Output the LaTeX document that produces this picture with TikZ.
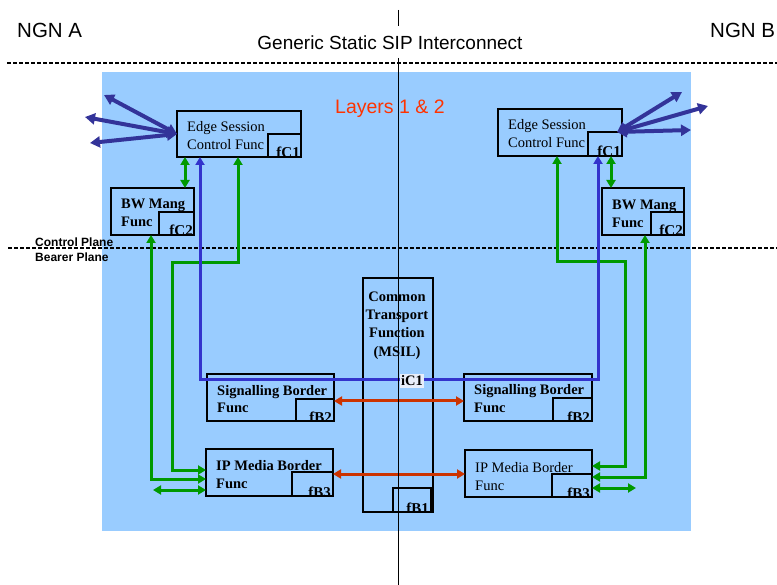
\documentclass[tikz,border=0pt]{standalone}
\usepackage{fontspec}
\setmainfont{Liberation Serif}
\newfontfamily\arialf{Liberation Sans}
\usetikzlibrary{arrows.meta}
\definecolor{bgblue}{RGB}{153,204,255}
\definecolor{grn}{RGB}{0,153,0}
\definecolor{blu}{RGB}{51,51,204}
\definecolor{fanblu}{RGB}{51,51,153}
\definecolor{rdo}{RGB}{204,51,0}
\definecolor{lay}{RGB}{255,51,0}
\definecolor{icbg}{RGB}{232,238,250}
\begin{document}
\begin{tikzpicture}[x=1pt,y=-1pt,
  box/.style={draw=black, line width=2.6pt, rectangle, anchor=north west, inner sep=0pt, outer sep=0pt},
  subbox/.style={draw=black, line width=1.5pt, rectangle, anchor=north west, inner sep=0pt, outer sep=0pt},
  btxt/.style={anchor=base west, inner sep=0pt, font=\fontsize{14.5}{17}\selectfont},
  bbtxt/.style={anchor=base west, inner sep=0pt, font=\fontsize{14.5}{17}\selectfont\bfseries},
  ctxt/.style={anchor=base, inner sep=0pt, font=\fontsize{14.5}{17}\selectfont\bfseries},
  sublbl/.style={anchor=base east, inner sep=0pt, font=\fontsize{15}{17}\selectfont\bfseries},
  gr/.style={draw=grn, line width=3pt, {Triangle[length=8pt,width=9pt]}-{Triangle[length=8pt,width=9pt]}},
  bl/.style={draw=blu, line width=3pt, {Triangle[length=8pt,width=9pt]}-{Triangle[length=8pt,width=9pt]}},
  rd/.style={draw=rdo, line width=3pt, {Triangle[length=8pt,width=9pt]}-{Triangle[length=8pt,width=9pt]}},
  fan/.style={draw=fanblu, line width=4pt, {Triangle[length=10pt,width=11pt]}-{Triangle[length=10pt,width=11pt]}},
  dashline/.style={draw=black, line width=1.3pt, dash pattern=on 4pt off 2pt},
  vline/.style={draw=black, line width=1pt}
]
\useasboundingbox (0,0) rectangle (777,585);
% background
\fill[bgblue] (102,72) rectangle (691,531);
% dashed lines
\coordinate (d1a) at (7,63); \coordinate (d1b) at (777,63);
\coordinate (d2a) at (8,248); \coordinate (d2b) at (777,248);
\draw[dashline] (d1a) -- (d1b);
\draw[dashline] (d2a) -- (d2b);
% top texts
\node[anchor=base west, inner sep=0pt, font=\arialf\fontsize{20.5}{24}\selectfont] (ngna) at (17,38) {NGN A};
\node[anchor=base west, inner sep=0pt, font=\arialf\fontsize{20.5}{24}\selectfont] (ngnb) at (710,38) {NGN B};
\node[anchor=base, inner sep=0pt, font=\arialf\fontsize{19}{22}\selectfont] (gsip) at (390,50) {Generic Static SIP Interconnect};
\node[anchor=base west, inner sep=0pt, font=\arialf\fontsize{19.5}{22}\selectfont, text=lay] (layers) at (335,114) {Layers 1 \& 2};
\node[anchor=base west, inner sep=0pt, font=\arialf\bfseries\fontsize{12}{14}\selectfont] (cplane) at (35,247) {Control Plane};
\node[anchor=base west, inner sep=0pt, font=\arialf\bfseries\fontsize{12}{14}\selectfont] (bplane) at (35,262) {Bearer Plane};
% boxes
\node[box, minimum width=124pt, minimum height=46pt] (esl) at (177,111) {};
\node[subbox, minimum width=33pt, minimum height=23pt] (esls) at (268,134) {};
\node[box, minimum width=83pt, minimum height=47pt] (bwl) at (111,188) {};
\node[subbox, minimum width=35pt, minimum height=23pt] (bwls) at (159,212) {};
\node[box, minimum width=124pt, minimum height=47pt] (esr) at (498,109) {};
\node[subbox, minimum width=34pt, minimum height=24pt] (esrs) at (588,132) {};
\node[box, minimum width=82pt, minimum height=47pt] (bwr) at (602,188) {};
\node[subbox, minimum width=33pt, minimum height=23pt] (bwrs) at (651,212) {};
\node[subbox, line width=2pt, minimum width=70pt, minimum height=234pt] (ctf) at (363,278) {};
\node[subbox, minimum width=38pt, minimum height=24pt] (ctfs) at (393,488) {};
\node[box, minimum width=127pt, minimum height=47pt] (sbl) at (207,374) {};
\node[subbox, minimum width=38pt, minimum height=22pt] (sbls) at (296,399) {};
\node[box, minimum width=128pt, minimum height=47pt] (sbr) at (464,374) {};
\node[subbox, minimum width=39pt, minimum height=23pt] (sbrs) at (553,398) {};
\node[box, minimum width=127pt, minimum height=47pt] (ipl) at (206,449) {};
\node[subbox, minimum width=41pt, minimum height=24pt] (ipls) at (292,472) {};
\node[box, minimum width=127pt, minimum height=47pt] (ipr) at (465,450) {};
\node[subbox, minimum width=40pt, minimum height=23pt] (iprs) at (552,474) {};
% box texts
\node[btxt] (eslt1) at (187,132) {Edge Session};
\node[btxt] (eslt2) at (187,150) {Control Func};
\node[btxt] (esrt1) at (508,130) {Edge Session};
\node[btxt] (esrt2) at (508,148) {Control Func};
\node[bbtxt] (bwlt1) at (121,209) {BW Mang};
\node[bbtxt] (bwlt2) at (121,227) {Func};
\node[bbtxt] (bwrt1) at (612,210) {BW Mang};
\node[bbtxt] (bwrt2) at (612,228) {Func};
\node[bbtxt] (sblt1) at (217,396) {Signalling Border};
\node[bbtxt] (sblt2) at (217,413) {Func};
\node[bbtxt] (sbrt1) at (474,395) {Signalling Border};
\node[bbtxt] (sbrt2) at (474,413) {Func};
\node[bbtxt] (iplt1) at (216,470) {IP Media Border};
\node[bbtxt] (iplt2) at (216,488) {Func};
\node[btxt] (iprt1) at (475,472) {IP Media Border};
\node[btxt] (iprt2) at (475,490) {Func};
\node[ctxt] (ctft1) at (397,302) {Common};
\node[ctxt] (ctft2) at (397,320) {Transport};
\node[ctxt] (ctft3) at (397,338) {Function};
\node[ctxt] (ctft4) at (397,357) {(MSIL)};
% sub labels
\begin{scope}\clip (esls.north west) rectangle (esls.south east);
\node[sublbl] (fc1l) at (300,158) {fC1};\end{scope}
\begin{scope}\clip (bwls.north west) rectangle (bwls.south east);
\node[sublbl] (fc2l) at (193,236) {fC2};\end{scope}
\begin{scope}\clip (esrs.north west) rectangle (esrs.south east);
\node[sublbl] (fc1r) at (621,157) {fC1};\end{scope}
\begin{scope}\clip (bwrs.north west) rectangle (bwrs.south east);
\node[sublbl] (fc2r) at (683,236) {fC2};\end{scope}
\begin{scope}\clip (ctfs.north west) rectangle (ctfs.south east);
\node[sublbl] (fb1) at (429,513) {fB1};\end{scope}
\begin{scope}\clip (sbls.north west) rectangle (sbls.south east);
\node[sublbl] (fb2l) at (332,422) {fB2};\end{scope}
\begin{scope}\clip (sbrs.north west) rectangle (sbrs.south east);
\node[sublbl] (fb2r) at (590,422) {fB2};\end{scope}
\begin{scope}\clip (ipls.north west) rectangle (ipls.south east);
\node[sublbl] (fb3l) at (331,497) {fB3};\end{scope}
\begin{scope}\clip (iprs.north west) rectangle (iprs.south east);
\node[sublbl] (fb3r) at (590,498) {fB3};\end{scope}
% connector coordinates
\coordinate (g1) at (185,170);
\coordinate (g2) at (151,479);
\coordinate (g3a) at (238,263); \coordinate (g3b) at (172,263); \coordinate (g3c) at (172,470);
\coordinate (g4) at (153,490);
\coordinate (g5) at (611,170);
\coordinate (g6a) at (557,262); \coordinate (g6b) at (625,262); \coordinate (g6c) at (625,466);
\coordinate (g7) at (645,477);
\coordinate (g8) at (636,488);
\coordinate (bL) at (200,380); \coordinate (bR) at (598,380);
\coordinate (r1) at (400,401); \coordinate (r2) at (400,474);
\coordinate (fl1) at (104,95); \coordinate (fl2) at (85,117); \coordinate (fl3) at (90,143);
\coordinate (fanR) at (617,132);
\coordinate (fr1) at (682,92); \coordinate (fr2) at (708,106); \coordinate (fr3) at (691,130);
% green connectors
\draw[gr] (esl.south -| g1) -- (bwl.north -| g1);
\draw[gr] (bwl.south -| g2) -- (g2) -- (ipl.west |- g2);
\draw[gr] (esl.south -| g3a) -- (g3a) -- (g3b) -- (g3c) -- (ipl.west |- g3c);
\draw[gr] (g4) -- (ipl.west |- g4);
\draw[gr] (esr.south -| g5) -- (bwr.north -| g5);
\draw[gr] (esr.south -| g6a) -- (g6a) -- (g6b) -- (g6c) -- (ipr.east |- g6c);
\draw[gr] (bwr.south -| g7) -- (g7) -- (ipr.east |- g7);
\draw[gr] (ipr.east |- g8) -- (g8);
% blue connector
\draw[bl] (esl.south -| bL) -- (bL) -- (bR) -- (esr.south -| bR);
% red connectors
\draw[rd] (sbl.east |- r1) -- (sbr.west |- r1);
\draw[rd] (ipl.east |- r2) -- (ipr.west |- r2);
% fans
\draw[fan] (esl.west) -- (fl1);
\draw[fan] (esl.west) -- (fl2);
\draw[fan] (esl.west) -- (fl3);
\draw[fan] (fanR) -- (fr1);
\draw[fan] (fanR) -- (fr2);
\draw[fan] (fanR) -- (fr3);
% iC1
\node[fill=icbg, inner sep=1.5pt, font=\fontsize{14.5}{17}\selectfont\bfseries] (ic1) at (412,381) {iC1};
% center line
\coordinate (v1) at (398,10); \coordinate (v2) at (398,26);
\coordinate (v3) at (398,58); \coordinate (v4) at (398,585);
\draw[vline] (v1) -- (v2);
\draw[vline] (v3) -- (v4);
\end{tikzpicture}
\end{document}
